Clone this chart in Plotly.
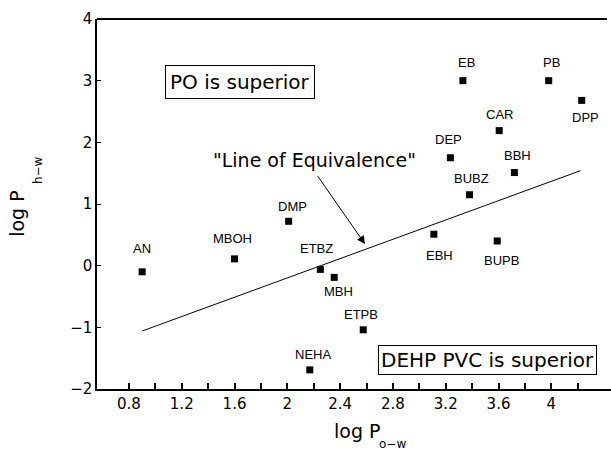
import plotly.graph_objects as go

# ---- data ----
names = ["AN", "MBOH", "DMP", "NEHA", "ETBZ", "MBH", "ETPB", "EBH", "BUPB",
         "EB", "PB", "DPP", "CAR", "DEP", "BBH", "BUBZ"]
log_pow = [0.90, 1.60, 2.01, 2.17, 2.25, 2.355, 2.575, 3.11, 3.59,
           3.33, 3.98, 4.23, 3.605, 3.235, 3.72, 3.38]
log_phw = [-0.10, 0.11, 0.72, -1.69, -0.06, -0.19, -1.04, 0.51, 0.40,
           3.00, 3.00, 2.68, 2.19, 1.75, 1.51, 1.15]

equiv_x = [0.90, 4.22]
equiv_y = [-1.06, 1.54]

x_tick_vals = [0.8, 1.0, 1.2, 1.4, 1.6, 1.8, 2.0, 2.2, 2.4, 2.6, 2.8, 3.0,
               3.2, 3.4, 3.6, 3.8, 4.0, 4.2]
x_tick_text = ["0.8", "", "1.2", "", "1.6", "", "2", "", "2.4", "", "2.8", "",
               "3.2", "", "3.6", "", "4", ""]
y_tick_vals = [-2, -1, 0, 1, 2, 3, 4]
y_tick_text = ["−2", "−1", "0", "1", "2", "3", "4"]

# label offsets in pixels (style)
label_shift = {
    "AN": (0, 23), "MBOH": (-2, 20), "DMP": (4, 15), "NEHA": (3, 15),
    "ETBZ": (-4, 21), "MBH": (4, -14), "ETPB": (-2, 15), "EBH": (6, -21),
    "BUPB": (4, -19), "EB": (4, 18), "PB": (3, 18), "DPP": (4, -17),
    "CAR": (0, 16), "DEP": (-2, 18), "BBH": (3, 17), "BUBZ": (2, 16),
}

FONT = "DejaVu Sans"
LFONT = "Liberation Sans, Arial"

fig = go.Figure()
fig.add_trace(go.Scatter(x=equiv_x, y=equiv_y, mode="lines",
                         line=dict(color="black", width=1), showlegend=False,
                         hoverinfo="skip"))
fig.add_trace(go.Scatter(x=log_pow, y=log_phw, mode="markers",
                         marker=dict(symbol="square", size=7, color="black"),
                         showlegend=False))

annotations = []
for n, xv, yv in zip(names, log_pow, log_phw):
    dx, dy = label_shift[n]
    annotations.append(dict(x=xv, y=yv, xref="x", yref="y", text=n,
                            showarrow=False, xshift=dx, yshift=dy,
                            xanchor="center", yanchor="middle",
                            font=dict(family=LFONT, size=13, color="black")))


def paper_text(x, y, text, size, angle=0, **kw):
    d = dict(x=x, y=y, xref="paper", yref="paper", text=text,
             showarrow=False, xanchor="center", yanchor="middle",
             textangle=angle, font=dict(family=FONT, size=size, color="black"))
    d.update(kw)
    return d


# boxes
annotations.append(paper_text(0.278, 0.831, "PO is superior", 20,
                              bordercolor="black", borderwidth=1, borderpad=4,
                              bgcolor="white"))
annotations.append(paper_text(0.759, 0.0785, "DEHP PVC is superior", 20,
                              bordercolor="black", borderwidth=1, borderpad=2,
                              bgcolor="white"))
annotations.append(paper_text(0.424, 0.620, "\"Line of Equivalence\"", 19))
# arrow
annotations.append(dict(x=2.588, y=0.352, xref="x", yref="y",
                        ax=2.222, ay=1.477, axref="x", ayref="y",
                        text="", showarrow=True, arrowhead=2, arrowsize=1.6,
                        arrowwidth=1, arrowcolor="black"))
# axis titles
annotations.append(paper_text(-0.1556, 0.4736, "log P", 19, angle=-90))
annotations.append(paper_text(-0.1158, 0.593, "h−w", 12, angle=-90))
annotations.append(paper_text(0.505, -0.113, "log P", 19))
annotations.append(paper_text(0.575, -0.150, "o−w", 12))

fig.update_layout(
    width=611, height=451,
    margin=dict(l=97, r=0, t=19, b=62),
    plot_bgcolor="white", paper_bgcolor="white",
    annotations=annotations,
    shapes=[dict(type="line", xref="paper", yref="paper", x0=0, x1=0.992,
                 y0=1, y1=1, line=dict(color="black", width=2))],
    xaxis=dict(range=[0.558, 4.452], showgrid=False, zeroline=False,
               showline=True, linecolor="black", linewidth=1.5,
               tickmode="array", tickvals=x_tick_vals, ticktext=x_tick_text,
               ticks="inside", ticklen=6, tickwidth=1.5, tickcolor="black",
               tickfont=dict(family=FONT, size=15, color="black")),
    yaxis=dict(range=[-2, 4], showgrid=False, zeroline=False,
               showline=True, linecolor="black", linewidth=1.5,
               tickmode="array", tickvals=y_tick_vals, ticktext=y_tick_text,
               ticks="inside", ticklen=4, tickwidth=1, tickcolor="black",
               tickfont=dict(family=FONT, size=15, color="black")),
)

fig.write_html("out.html")
